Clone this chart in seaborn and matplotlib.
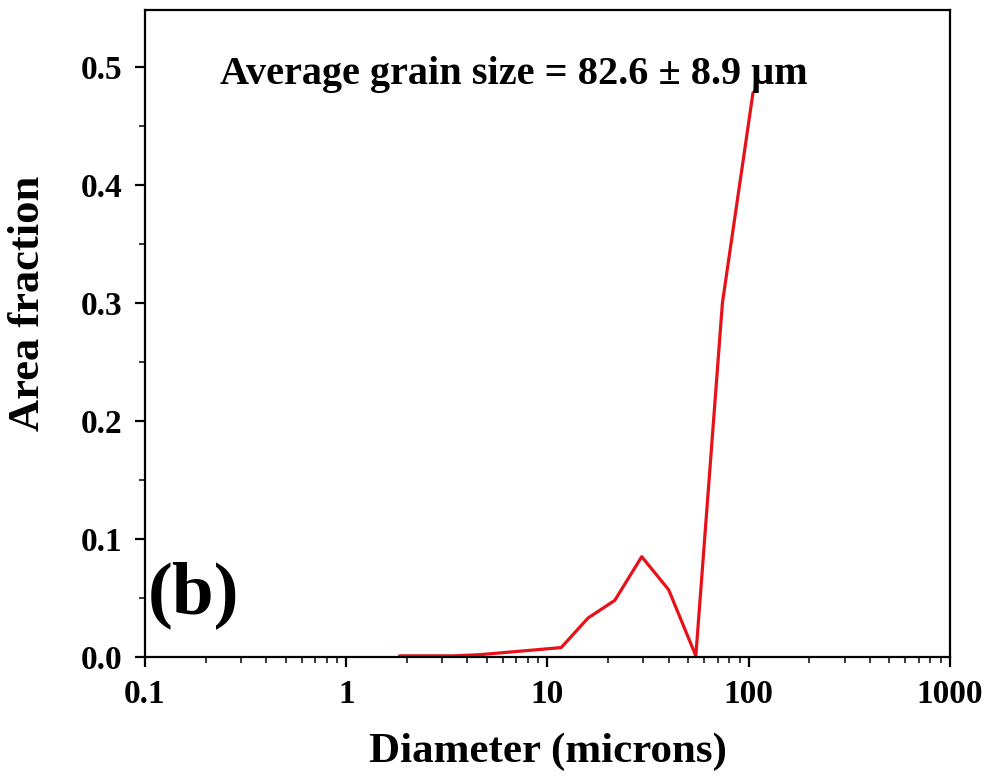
import numpy as np
import pandas as pd
import matplotlib
matplotlib.use("Agg")
import matplotlib.pyplot as plt
import seaborn as sns
from matplotlib.ticker import LogLocator, MultipleLocator, FixedLocator, FixedFormatter

diameter = [1.84, 2.5, 3.4, 4.6, 6.3, 8.6, 11.7, 15.9, 21.6, 29.4, 40.0, 54.6, 74.0, 105.0]
area_fraction = [0.001, 0.001, 0.001, 0.002, 0.004, 0.006, 0.008, 0.033, 0.048, 0.085, 0.057, 0.001, 0.300, 0.478]
x_ticks = [0.1, 1, 10, 100, 1000]
x_tick_labels = ["0.1", "1", "10", "100", "1000"]
y_ticks = [0.0, 0.1, 0.2, 0.3, 0.4, 0.5]
y_tick_labels = ["0.0", "0.1", "0.2", "0.3", "0.4", "0.5"]

df = pd.DataFrame({"Diameter": diameter, "Area": area_fraction})

sns.set_style("ticks")
plt.rcParams["font.family"] = ["Liberation Serif", "DejaVu Serif"]
plt.rcParams["font.weight"] = "bold"

fig = plt.figure(figsize=(9.91, 7.78), dpi=100)
ax = fig.add_axes([0.1463, 0.1555, 0.8123, 0.8315])

sns.lineplot(data=df, x="Diameter", y="Area", ax=ax, color="#e8111a", linewidth=2.3,
             sort=False, estimator=None)
ax.set_xscale("log")
ax.set_xlim(0.1, 1000)
ax.set_ylim(0.0, 0.548)

ax.xaxis.set_major_locator(FixedLocator(x_ticks))
ax.xaxis.set_major_formatter(FixedFormatter(x_tick_labels))
ax.xaxis.set_minor_locator(LogLocator(base=10, subs=np.arange(2, 10) * 1.0, numticks=20))
ax.yaxis.set_major_locator(FixedLocator(y_ticks))
ax.yaxis.set_major_formatter(FixedFormatter(y_tick_labels))
ax.yaxis.set_minor_locator(MultipleLocator(0.05))

for s in ax.spines.values():
    s.set_linewidth(1.6)
    s.set_color("black")
    s.set_visible(True)

ax.tick_params(axis="both", which="major", direction="out", length=7, width=1.6,
               labelsize=24, colors="black", labelcolor="black")
ax.tick_params(axis="y", which="major", pad=9)
ax.tick_params(axis="x", which="major", pad=9)
ax.tick_params(axis="both", which="minor", direction="out", length=4, width=1.3)
ax.tick_params(top=False, right=False, which="both")
for lab in ax.get_xticklabels() + ax.get_yticklabels():
    lab.set_fontweight("bold")

ax.set_xlabel("Diameter (microns)", fontsize=31, fontweight="bold", color="black")
ax.set_ylabel("Area fraction", fontsize=32, fontweight="bold", color="black")
ax.xaxis.set_label_coords(0.5, -0.147)
ax.xaxis.label.set_va("center")
ax.yaxis.set_label_coords(-0.145, 0.547)
ax.yaxis.label.set_va("center")

ax.text(0.458, 0.90, "Average grain size = 82.6 ± 8.9 μm", transform=ax.transAxes,
        fontsize=29, fontweight="bold", ha="center", va="center", color="black")
ax.text(0.003, 0.096, "(b)", transform=ax.transAxes, fontsize=54, fontweight="bold",
        ha="left", va="center", color="black")

fig.savefig("out.png", dpi=100)
